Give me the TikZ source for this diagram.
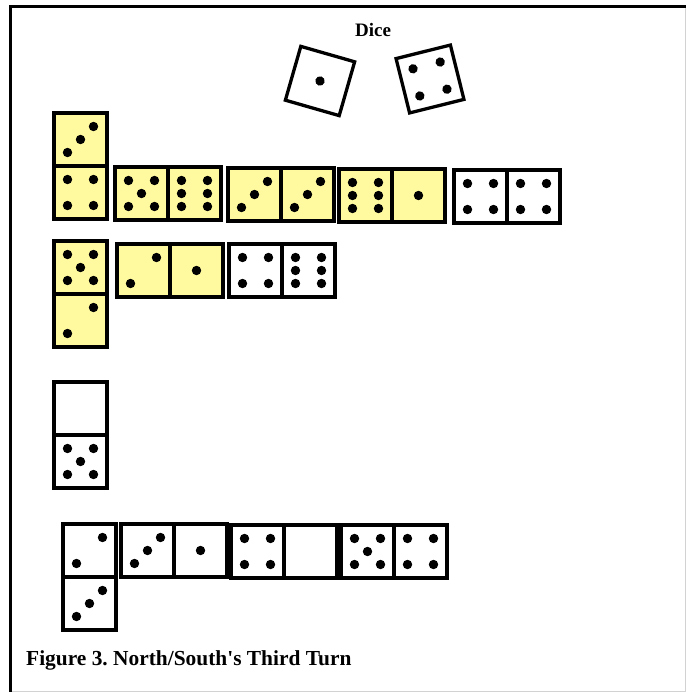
\documentclass[tikz,border=0pt]{standalone}
\usepackage{fontspec}
\setmainfont{Liberation Serif}
\newfontfamily\figfont{Liberation Serif}
\frenchspacing

\definecolor{bone}{RGB}{255,250,160}

\tikzset{
  tile/.style={draw=black, line width=3.4pt, line join=miter},
  die/.style={draw=black, fill=white, line width=3.3pt},
}

%--- pips on one face: #1,#2 = centre, #3 = number of pips
\newcommand{\pips}[3]{%
  \begin{scope}[shift={(#1,#2)}]
    \ifcase#3\relax
    \or \fill (0,0) circle (\pr);
    \or \foreach \a in {-1,1} \fill (\a*\pd,-\a*\pd) circle (\pr);
    \or \foreach \a in {-1,0,1} \fill (\a*\pd,-\a*\pd) circle (\pr);
    \or \foreach \a/\b in {-1/-1,-1/1,1/-1,1/1} \fill (\a*\pd,\b*\pd) circle (\pr);
    \or \foreach \a/\b in {-1/-1,-1/1,1/-1,1/1,0/0} \fill (\a*\pd,\b*\pd) circle (\pr);
    \or \foreach \a/\b in {-1/-1,-1/0,-1/1,1/-1,1/0,1/1} \fill (\a*\pd,\b*\pd) circle (\pr);
    \fi
  \end{scope}}

%--- one half of a domino: #1,#2 = top left corner, #3 = pips, #4 = fill
\newcommand{\halfbone}[4]{%
  \draw[tile, fill=#4] (#1,#2) rectangle ++(\side,\side);
  \pips{#1+\side/2}{#2+\side/2}{#3}}

%--- whole dominoes, lying and standing
\newcommand{\hbone}[5]{\halfbone{#1}{#2}{#3}{#5}\halfbone{#1+\side}{#2}{#4}{#5}}
\newcommand{\vbone}[5]{\halfbone{#1}{#2}{#3}{#5}\halfbone{#1}{#2+\side}{#4}{#5}}

\begin{document}
\begin{tikzpicture}[x=1pt, y=-1pt]
  %--- parameters to tweak layout easily
  \def\side{53}   % side of one half of a domino
  \def\pd{13}     % pip offset from the centre of a half
  \def\pr{4.7}    % pip radius

  \useasboundingbox (0,0) rectangle (686,692);

  %--- frame
  \draw[gray!35, line width=1pt] (685.5,6.5) -- (685.5,691.5) -- (10.5,691.5);
  \draw[line width=3pt] (10.5,692) -- (10.5,6.5) -- (686,6.5);

  %--- dice
  \node[font=\figfont\fontsize{19}{21}\selectfont\bfseries] (dicelabel) at (373,30) {Dice};
  \begin{scope}[shift={(320,81)}, rotate=-16]
    \draw[die] (-28,-28) rectangle (28,28);
    \pips{0}{0}{1}
  \end{scope}
  \begin{scope}[shift={(430,79)}, rotate=14]
    \def\pd{14}
    \draw[die] (-28,-28) rectangle (28,28);
    \pips{0}{0}{4}
  \end{scope}

  %--- first line of play
  \vbone{54}{113}{3}{4}{bone}
  \hbone{115}{167}{5}{6}{bone}
  \hbone{228}{168}{3}{3}{bone}
  \hbone{339}{169}{6}{1}{bone}
  \hbone{454}{170}{4}{4}{white}

  %--- second line of play
  \vbone{54}{241}{5}{2}{bone}
  \hbone{117}{244}{2}{1}{bone}
  \hbone{229}{244}{4}{6}{white}

  %--- spinner below
  \vbone{54}{382}{0}{5}{white}

  %--- bottom line
  \vbone{63}{524}{2}{3}{white}
  \hbone{121}{524}{3}{1}{white}
  \hbone{231}{525}{4}{0}{white}
  \hbone{341}{525}{5}{4}{white}

  %--- caption
  \node[anchor=base west, font=\figfont\fontsize{21.4}{24}\selectfont\bfseries, inner sep=0pt]
    (caption) at (26,665) {Figure 3. North/South's Third Turn};
\end{tikzpicture}
\end{document}
